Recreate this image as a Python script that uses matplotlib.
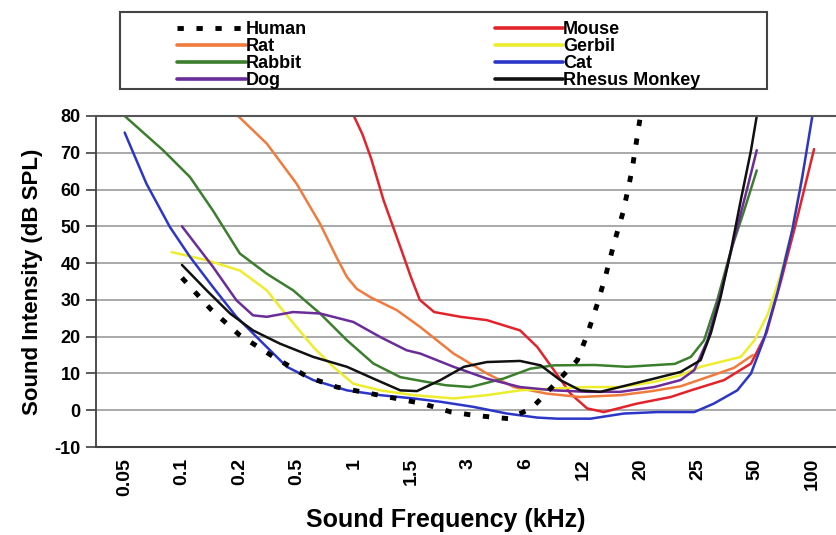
import matplotlib
matplotlib.use("Agg")
import matplotlib.pyplot as plt
from matplotlib.patches import Rectangle

plt.rcParams['font.family'] = ['Liberation Sans', 'DejaVu Sans']
plt.rcParams['font.weight'] = 'bold'
plt.rcParams['axes.unicode_minus'] = False

# x positions are in category units (0 = 0.05 kHz ... 12 = 100 kHz)
freq_labels = ['0.05', '0.1', '0.2', '0.5', '1', '1.5', '3', '6', '12', '20', '25', '50', '100']

human_x = [1.0, 1.5, 2.0, 2.6, 3.2, 3.7, 4.3, 5.2, 5.7, 6.1, 6.7, 7.1, 7.5, 7.9, 8.07, 8.25, 8.4, 8.55, 8.7, 8.85, 9.0]
human_y = [36, 27.5, 20.5, 14.5, 9, 6.3, 4.5, 1.8, -0.5, -1.4, -2.3, 0.5, 7, 13.6, 20.5, 29, 37, 46, 54, 65, 80]

mouse_x = [4.0, 4.15, 4.3, 4.52, 4.81, 5.0, 5.15, 5.4, 5.86, 6.32, 6.9, 7.2, 7.49, 7.78, 8.07, 8.36, 8.94, 9.53, 9.88,
           10.46, 10.93, 11.2, 11.45, 11.7, 12.03]
mouse_y = [80, 75, 68.5, 57, 44.4, 36, 30, 26.7, 25.4, 24.5, 21.7, 17.2, 10.9, 4.5, 0.5, -0.5, 1.8, 3.6, 5.4,
           8.2, 12.7, 21, 35, 50, 71]

rat_x = [1.98, 2.48, 3.0, 3.41, 3.7, 3.88, 4.05, 4.28, 4.75, 5.16, 5.74, 6.32, 6.79, 7.37, 7.95, 8.65, 9.2, 9.7,
         10.17, 10.63, 10.96]
rat_y = [80, 72.5, 61.6, 50.7, 41.5, 36.2, 33, 30.8, 27.2, 22.6, 15.4, 10, 6.3, 4.5, 3.6, 4.1, 5.2, 6.5, 9, 11.5, 15]

gerbil_x = [0.82, 1.43, 2.01, 2.48, 2.71, 3.0, 3.29, 3.64, 3.99, 4.46, 5.04, 5.74, 6.32, 6.9, 7.49, 8.07,
            8.65, 9.24, 9.7, 10.05, 10.75, 10.99, 11.22, 11.45, 11.63, 11.85]
gerbil_y = [43, 40.8, 38, 32.6, 28.1, 22.6, 17.2, 11.8, 7.2, 5.4, 4.1, 3.2, 4.1, 5.4, 5.9, 6.3,
            6.3, 7.7, 9.5, 11.8, 14.5, 19, 26, 37, 48, 66]

rabbit_x = [0.0, 0.67, 1.14, 1.54, 2.01, 2.48, 2.94, 3.41, 3.88, 4.34, 4.81, 5.16, 5.6, 6.03, 6.61, 7.08,
            7.49, 8.2, 8.77, 9.6, 9.88, 10.11, 10.34, 10.58, 10.81, 11.03]
rabbit_y = [80, 70.7, 63.4, 54.3, 42.6, 37.1, 32.6, 26.3, 19, 12.7, 9, 8, 6.8, 6.3, 8.6, 11.3,
            12.2, 12.3, 11.8, 12.6, 14.5, 19, 29.9, 43.5, 54.3, 65.2]

cat_x = [0.0, 0.38, 0.79, 1.14, 1.54, 1.95, 2.42, 2.83, 3.29, 3.88, 4.46, 5.04, 5.51, 6.09, 6.67, 7.2,
         7.55, 8.13, 8.71, 9.3, 9.94, 10.28, 10.69, 10.93, 11.16, 11.39, 11.65, 11.82, 12.0]
cat_y = [75.5, 61.6, 49.8, 41.7, 33.5, 25.4, 18.1, 11.8, 8.2, 5.4, 4.1, 3.2, 2.3, 0.9, -0.9, -2.0,
         -2.3, -2.3, -0.9, -0.5, -0.5, 1.8, 5.4, 10, 19.5, 32, 49, 63, 80]

dog_x = [1.0, 1.54, 1.95, 2.24, 2.48, 2.94, 3.41, 3.99, 4.46, 4.92, 5.16, 5.74, 6.32, 6.9, 7.49, 8.07,
         8.65, 9.24, 9.7, 9.94, 10.17, 10.40, 10.63, 10.87, 11.03]
dog_y = [50, 39, 29.9, 25.8, 25.4, 26.7, 26.3, 24, 19.9, 16.3, 15.4, 11.8, 8.6, 6.3, 5.4, 5,
         5, 6.3, 8.2, 10.9, 19, 31.7, 46.2, 60.7, 70.7]

monkey_x = [1.0, 1.43, 1.84, 2.24, 2.71, 3.29, 3.88, 4.34, 4.81, 5.1, 5.51, 5.92, 6.32, 6.9, 7.26, 7.6,
            7.95, 8.3, 8.77, 9.24, 9.70, 10.05, 10.23, 10.40, 10.58, 10.75, 10.93, 11.03]
monkey_y = [39.5, 32.6, 26.3, 21.7, 18.1, 14.5, 11.8, 8.6, 5.4, 5.2, 8.2, 11.8, 13.1, 13.4, 12.2, 8.2,
            5.4, 5.0, 6.8, 8.6, 10.4, 13.6, 21, 30.8, 43.5, 57, 70.7, 80]

fig = plt.figure(figsize=(8.37, 5.35), dpi=100)
ax = fig.add_axes([96 / 837, 88 / 535, 745 / 837, 331 / 535])

lw = 1.8
style = dict(lw=lw, solid_joinstyle='round', solid_capstyle='round')
l_mouse, = ax.plot(mouse_x, mouse_y, color='#e3232b', **style)
l_rat, = ax.plot(rat_x, rat_y, color='#f07b3c', **style)
l_gerbil, = ax.plot(gerbil_x, gerbil_y, color='#eded2e', **style)
l_rabbit, = ax.plot(rabbit_x, rabbit_y, color='#3b7f2c', **style)
l_cat, = ax.plot(cat_x, cat_y, color='#2b36c9', **style)
l_dog, = ax.plot(dog_x, dog_y, color='#6b2c99', **style)
l_monkey, = ax.plot(monkey_x, monkey_y, color='#111111', **style)
l_human, = ax.plot(human_x, human_y, color='black', lw=3.5, dashes=(1.3, 2.6))

ax.set_xlim(-0.5, 12.5)
ax.set_ylim(-10, 80)
ax.set_yticks(range(-10, 81, 10))
ax.set_xticks(range(len(freq_labels)))
ax.set_xticklabels(freq_labels, rotation=90, fontsize=14, fontweight='bold')
ax.tick_params(axis='x', length=0, pad=8)
ax.tick_params(axis='y', direction='out', length=7, width=1.2, color='#404040', labelsize=13, pad=4)
for t in ax.get_yticklabels():
    t.set_fontweight('bold')

ax.yaxis.grid(True, color='#a9a9a9', lw=1.4)
ax.set_axisbelow(True)
ax.spines['right'].set_visible(False)
ax.spines['top'].set_color('#555555')
ax.spines['top'].set_linewidth(1.5)
ax.spines['left'].set_color('#404040')
ax.spines['left'].set_linewidth(1.3)
ax.spines['bottom'].set_color('#404040')
ax.spines['bottom'].set_linewidth(1.5)

ax.set_xlabel('Sound Frequency (kHz)', fontsize=18, fontweight='bold')
ax.xaxis.set_label_coords(0.47, -0.185)
ax.set_ylabel('Sound Intensity (dB SPL)', fontsize=16, fontweight='bold', labelpad=8)

handles = [l_human, l_rat, l_rabbit, l_dog, l_mouse, l_gerbil, l_cat, l_monkey]
labels = ['Human', 'Rat', 'Rabbit', 'Dog', 'Mouse', 'Gerbil', 'Cat', 'Rhesus Monkey']
leg = fig.legend(handles, labels, ncol=2, loc='upper left', bbox_to_anchor=(168 / 837, 1 - 12 / 535),
                 frameon=False, handlelength=3.8, handletextpad=0.0, columnspacing=10.4,
                 labelspacing=0.0, borderpad=0, prop={'weight': 'bold', 'size': 13})
for h in leg.legend_handles[1:]:
    h.set_linewidth(2.6)
fig.patches.append(Rectangle((120 / 837, 1 - 89 / 535), 647 / 837, 77 / 535,
                             transform=fig.transFigure, fill=False, edgecolor='#444444', lw=1.5))

fig.savefig('out.png', dpi=100)
